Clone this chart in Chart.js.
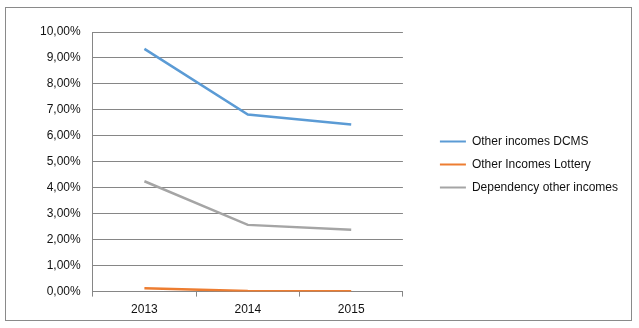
<!DOCTYPE html>
<html>
<head>
<meta charset="utf-8">
<script src="https://cdn.jsdelivr.net/npm/chart.js@4/dist/chart.umd.min.js"></script>
<style>
  html, body { margin: 0; padding: 0; background: #fff; }
  #wrap { position: relative; width: 639px; height: 328px; }
  #frame { position: absolute; left: 5px; top: 7px; width: 627px; height: 314px; box-sizing: border-box; border: 1px solid #8a8a8a; pointer-events: none; }
  canvas { position: absolute; left: 0; top: 0; }
</style>
</head>
<body>
<div id="wrap">
  <canvas id="c" width="639" height="328"></canvas>
  <div id="frame"></div>
</div>
<script>
const categories = ['2013', '2014', '2015'];
const seriesNames = ['Other incomes DCMS', 'Other Incomes Lottery', 'Dependency other incomes'];
const dcmsValues = [0.0935, 0.0682, 0.0644];
const lotteryValues = [0.0013, 0.0002, 0.0001];
const dependencyValues = [0.0425, 0.0257, 0.0238];
const yTickMin = 0, yTickMax = 0.10, yTickStep = 0.01;

const colors = ['#5B9BD5', '#ED7D31', '#A5A5A5'];
const FONT = { family: 'Liberation Sans, Arial, sans-serif', size: 12 };

const legendShift = {
  id: 'legendShift',
  afterLayout(chart) {
    const lg = chart.legend;
    if (lg) { lg.left += 26; lg.right += 26; lg.top -= 13; lg.bottom -= 13; }
  }
};

new Chart(document.getElementById('c'), {
  type: 'line',
  data: {
    labels: categories,
    datasets: [dcmsValues, lotteryValues, dependencyValues].map((vals, i) => ({
      label: seriesNames[i],
      data: vals,
      borderColor: colors[i],
      backgroundColor: colors[i],
      borderWidth: 2.5,
      pointRadius: 0,
      tension: 0,
      fill: false
    }))
  },
  options: {
    responsive: false,
    animation: false,
    devicePixelRatio: 1,
    layout: { padding: { left: 28, right: 37, top: 32, bottom: 5 } },
    plugins: {
      tooltip: { enabled: false },
      legend: {
        position: 'right',
        align: 'center',
        maxWidth: 300,
        labels: {
          font: FONT,
          color: '#111',
          boxWidth: 26,
          boxHeight: 2,
          padding: 11,
          generateLabels(chart) {
            const items = Chart.defaults.plugins.legend.labels.generateLabels(chart);
            items.forEach(it => { it.lineWidth = 0; });
            return items;
          }
        }
      }
    },
    scales: {
      x: {
        type: 'category',
        offset: true,
        grid: { drawOnChartArea: false, tickLength: 5, color: '#868686', offset: true },
        border: { color: '#868686', width: 1 },
        ticks: { font: FONT, color: '#111', padding: 6, maxRotation: 0 }
      },
      y: {
        min: yTickMin,
        max: yTickMax,
        grid: { color: '#868686', tickLength: 0, lineWidth: 1 },
        border: { color: '#868686', width: 1 },
        ticks: {
          stepSize: yTickStep,
          font: FONT,
          color: '#111',
          padding: 12,
          callback: v => (v * 100).toFixed(2).replace('.', ',') + '%'
        }
      }
    }
  },
  plugins: [legendShift]
});
</script>
</body>
</html>
